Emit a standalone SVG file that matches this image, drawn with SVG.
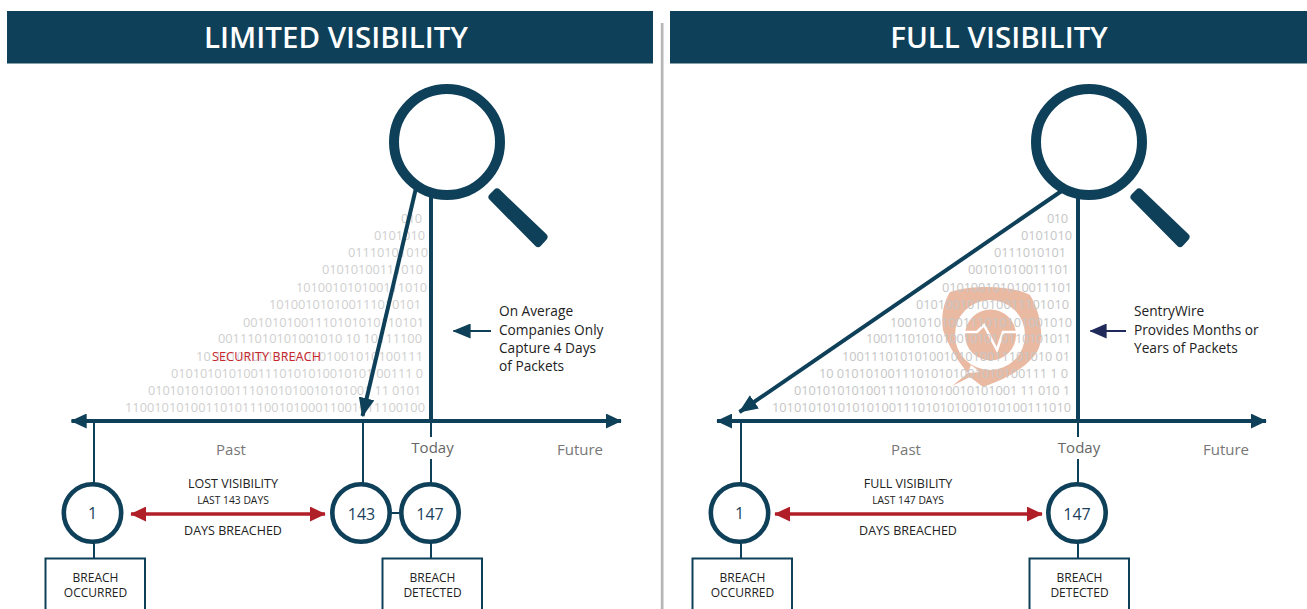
<svg xmlns="http://www.w3.org/2000/svg" width="1307" height="609" viewBox="0 0 1307 609">
<defs>
<style>
text{font-family:"Open Sans","Noto Sans","Liberation Sans",sans-serif}
.hdr{fill:#0f4059}
.ht{font-size:29.500px;font-weight:600;fill:#fff;text-anchor:middle}
.bin{font-size:12.8px;fill:#cfcfcf}
.binr{font-size:12.8px;fill:#c6c6c6}
.ln{stroke:#0f4059;fill:none}
.ring{fill:#fff;stroke:#0f4059;stroke-width:4.6}
.num{font-size:16px;fill:#1c3f5e;text-anchor:middle}
.box{fill:#fff;stroke:#0f4059;stroke-width:2}
.lb{font-size:12px;fill:#222;text-anchor:middle}
.sp{font-size:12.500px;fill:#222;text-anchor:middle}
.sm{font-size:10.300px;fill:#222;text-anchor:middle}
.tl{font-size:15px;fill:#777;text-anchor:middle}
.td{font-size:15px;fill:#666;text-anchor:middle}
.note{font-size:13.700px;fill:#222}
.red{stroke:#b01f27;stroke-width:3.5;fill:none}
.handle{fill:#0f4059;stroke:#0f4059;stroke-width:8;stroke-linejoin:round}
</style>
<marker id="ah" viewBox="0 0 10 10" refX="9.5" refY="5" markerWidth="16" markerHeight="15" markerUnits="userSpaceOnUse" orient="auto-start-reverse" preserveAspectRatio="none"><path d="M0 0L10 5L0 10Z" fill="#0f4059"/></marker>
<marker id="ab" viewBox="0 0 10 10" refX="9.5" refY="5" markerWidth="19" markerHeight="16" markerUnits="userSpaceOnUse" orient="auto" preserveAspectRatio="none"><path d="M0 0L10 5L0 10Z" fill="#0f4059"/></marker>
<marker id="ar" viewBox="0 0 10 10" refX="9.5" refY="5" markerWidth="16" markerHeight="15" markerUnits="userSpaceOnUse" orient="auto-start-reverse" preserveAspectRatio="none"><path d="M0 0L10 5L0 10Z" fill="#b01f27"/></marker>
<marker id="an" viewBox="0 0 10 10" refX="9.5" refY="5" markerWidth="18" markerHeight="15" markerUnits="userSpaceOnUse" orient="auto" preserveAspectRatio="none"><path d="M0 0L10 5L0 10Z" fill="#0f4059"/></marker>
<marker id="anv" viewBox="0 0 10 10" refX="9.5" refY="5" markerWidth="17" markerHeight="15" markerUnits="userSpaceOnUse" orient="auto" preserveAspectRatio="none"><path d="M0 0L10 5L0 10Z" fill="#1f2a5a"/></marker>
</defs>
<rect width="1307" height="609" fill="#fff"/>
<g id="header-limited"><rect class="hdr" x="7" y="11" width="646" height="52.500"/><text class="ht" x="336" y="48">LIMITED VISIBILITY</text></g>
<g id="header-full"><rect class="hdr" x="670" y="11" width="637" height="52.500"/><text class="ht" x="999" y="48">FULL VISIBILITY</text></g>
<rect id="divider" x="660.800" y="23" width="2.700" height="586" fill="#b6b6b6"/>
<g id="logo">
<path d="M950 292C962 288 975 287 987 287C1005 287 1020 290 1030 295C1038 308 1042 325 1041 338C1040 348 1037 353 1033 357C1024 368 1008 378 983 387L970 377L952 386L968 373C958 362 948 345 943 330C941 318 943 303 950 292Z" fill="#eab9a2"/>
<circle cx="990" cy="335" r="35" fill="#fff"/>
<circle cx="990.5" cy="335" r="25.5" fill="#eab9a2"/>
<path d="M964 332H977L984 325L997 350L1003 332H1017" fill="none" stroke="#fff" stroke-width="2.5"/>
<path d="M968 373L971 365L980 372Z" fill="#fff"/>
</g>
<g id="binary-limited" class="bin">
<text x="401" y="222.5" textLength="21">010</text>
<text x="374" y="239.5" textLength="51">0101010</text>
<text x="348" y="256.5" textLength="80">01110101010</text>
<text x="322" y="273.5" textLength="101">01010100111010</text>
<text x="296" y="291.5" textLength="131">101001010100111010</text>
<text x="269" y="308.5" textLength="152">101001010100111010101</text>
<text x="243" y="326.5" textLength="181">0010101001110101010110101</text>
<text x="218" y="342.5" textLength="204">00111010101001010 10 10111100</text>
<text x="196" y="360.5" textLength="227">10 1010100111010101001010100111</text>
<text x="171" y="377.5" textLength="252">0101010101001110101010010101 00111 0</text>
<text x="148" y="394.5" textLength="273">0101010101001110101010010101001 11 0101</text>
<text x="125" y="411.5" textLength="300">11001010100110101110010100011001011100100</text>
</g>
<g id="binary-full" class="binr">
<text x="1047" y="222.5" textLength="21">010</text>
<text x="1021" y="239.5" textLength="51">0101010</text>
<text x="994" y="256.5" textLength="72">0111010101</text>
<text x="968" y="273.5" textLength="101">00101010011101</text>
<text x="942" y="291.5" textLength="130">010100101010011101</text>
<text x="916" y="308.5" textLength="153">010100101010011101010</text>
<text x="890" y="326.5" textLength="182">1001010100111010101001010</text>
<text x="866" y="342.5" textLength="205">1001110101010010101 0110101011</text>
<text x="842" y="360.5" textLength="228">10011101010100101010011101010 01</text>
<text x="819" y="377.5" textLength="249">10 01010100111010101001010100111 1 0</text>
<text x="794" y="394.5" textLength="276">0101010101001110101010010101001 11 010 1</text>
<text x="772" y="411.5" textLength="299">10101010101010100111010101001010100111010</text>
</g>
<text id="security-breach" x="212" y="360.5" font-size="12.5" fill="#c8262c" textLength="109">SECURITY BREACH</text>
<g id="connectors">
<line class="ln" stroke-width="3.8" x1="71.500" y1="421" x2="621" y2="421" marker-start="url(#ah)" marker-end="url(#ah)"/>
<line class="ln" stroke-width="3.8" x1="717" y1="421" x2="1266" y2="421" marker-start="url(#ah)" marker-end="url(#ah)"/>
<line class="ln" stroke-width="4" x1="431" y1="196" x2="431" y2="421"/>
<line class="ln" stroke-width="4" x1="1078" y1="196" x2="1078" y2="421"/>
<line class="ln" stroke-width="4" x1="416" y1="188" x2="362.500" y2="416" marker-end="url(#ab)"/>
<line class="ln" stroke-width="4" x1="1063" y1="190" x2="739.500" y2="412" marker-end="url(#ab)"/>
<path class="ln" stroke-width="2" d="M94 421V484M363 421V484M431 421V437M431 459V484M94 542V558M431 542V558M392 513H399M741 421V484M1078 421V437M1078 459V484M741 542V558M1078 542V558"/>
<line class="red" x1="131" y1="514" x2="325" y2="514" marker-start="url(#ar)" marker-end="url(#ar)"/>
<line class="red" x1="775" y1="514" x2="1042" y2="514" marker-start="url(#ar)" marker-end="url(#ar)"/>
<line class="ln" stroke-width="2" x1="491" y1="331" x2="453.500" y2="331" marker-end="url(#an)"/>
<line stroke="#1f2a5a" stroke-width="2" x1="1126" y1="331" x2="1090.500" y2="331" marker-end="url(#anv)"/>
</g>
<g id="magnifier-limited"><circle cx="447" cy="142" r="53" fill="none" stroke="#0f4059" stroke-width="10"/><polygon class="handle" points="492.500,197 497,192.500 543.500,237 538,243"/></g>
<g id="magnifier-full"><circle cx="1089" cy="142" r="53" fill="none" stroke="#0f4059" stroke-width="10"/><polygon class="handle" points="1134.500,197 1139,192.500 1185.500,237 1180,243"/></g>
<g id="axis-labels">
<text class="tl" x="231" y="455">Past</text><text class="td" x="432.500" y="453">Today</text><text class="tl" x="580" y="455">Future</text>
<text class="tl" x="906" y="455">Past</text><text class="td" x="1079" y="453">Today</text><text class="tl" x="1226" y="455">Future</text>
</g>
<g id="span-limited"><text class="sp" x="233" y="488">LOST VISIBILITY</text><text class="sm" x="233" y="504">LAST 143 DAYS</text><text class="sp" x="233" y="535">DAYS BREACHED</text></g>
<g id="span-full"><text class="sp" x="908" y="488">FULL VISIBILITY</text><text class="sm" x="908" y="504">LAST 147 DAYS</text><text class="sp" x="908" y="535">DAYS BREACHED</text></g>
<g id="node-l1"><circle class="ring" cx="92.500" cy="513" r="28.700"/><text class="num" x="92.500" y="519">1</text></g>
<g id="node-l143"><circle class="ring" cx="361" cy="513" r="28.700"/><text class="num" x="361.500" y="519.500">143</text></g>
<g id="node-l147"><circle class="ring" cx="430" cy="513" r="28.700"/><text class="num" x="430" y="519.500">147</text></g>
<g id="node-r1"><circle class="ring" cx="739.500" cy="513" r="28.700"/><text class="num" x="739.500" y="519">1</text></g>
<g id="node-r147"><circle class="ring" cx="1077" cy="513" r="28.700"/><text class="num" x="1077" y="519.500">147</text></g>
<g id="box-l-occurred"><rect class="box" x="45.500" y="558.500" width="99.500" height="60"/><text class="lb" x="95.500" y="582">BREACH</text><text class="lb" x="95.500" y="596.500">OCCURRED</text></g>
<g id="box-l-detected"><rect class="box" x="382.500" y="558.500" width="99.500" height="60"/><text class="lb" x="432.500" y="582">BREACH</text><text class="lb" x="432.500" y="596.500">DETECTED</text></g>
<g id="box-r-occurred"><rect class="box" x="692.500" y="558.500" width="99.500" height="60"/><text class="lb" x="742.500" y="582">BREACH</text><text class="lb" x="742.500" y="596.500">OCCURRED</text></g>
<g id="box-r-detected"><rect class="box" x="1029.500" y="558.500" width="99.500" height="60"/><text class="lb" x="1079.500" y="582">BREACH</text><text class="lb" x="1079.500" y="596.500">DETECTED</text></g>
<g id="note-limited" class="note"><text x="499" y="316">On Average</text><text x="499" y="334.500">Companies Only</text><text x="499" y="353">Capture 4 Days</text><text x="499" y="371">of Packets</text></g>
<g id="note-full" class="note"><text x="1134" y="316">SentryWire</text><text x="1134" y="335">Provides Months or</text><text x="1134" y="353">Years of Packets</text></g>
</svg>
